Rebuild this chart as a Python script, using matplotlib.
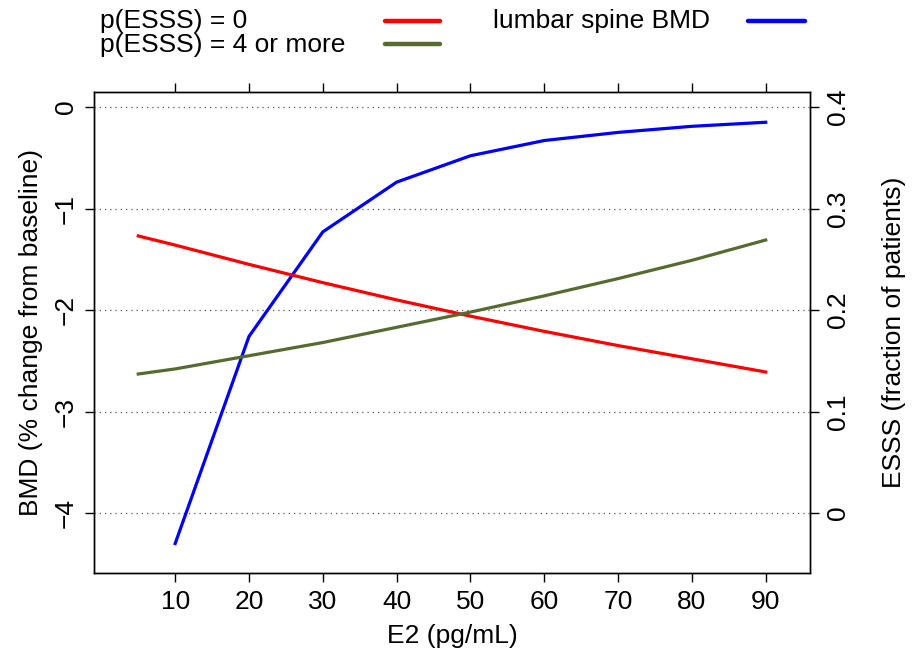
import matplotlib

matplotlib.use("Agg")

import matplotlib.pyplot as plt
from matplotlib.lines import Line2D

# E2 levels (pg/mL)
bmd_e2 = [10, 20, 30, 40, 50, 60, 70, 80, 90]
# lumbar spine BMD, % change from baseline
bmd_change = [-4.30, -2.26, -1.23, -0.74, -0.48, -0.33, -0.25, -0.19, -0.15]

esss_e2 = [5, 10, 20, 30, 40, 50, 60, 70, 80, 90]
# fraction of patients
p_esss_0 = [0.273, 0.264, 0.245, 0.227, 0.210, 0.194, 0.179, 0.165, 0.152, 0.139]
p_esss_4 = [0.137, 0.142, 0.155, 0.168, 0.183, 0.198, 0.214, 0.231, 0.249, 0.269]

x_ticks = [10, 20, 30, 40, 50, 60, 70, 80, 90]
left_ticks = [0, -1, -2, -3, -4]
left_labels = ["0", "\u22121", "\u22122", "\u22123", "\u22124"]
right_ticks = [0.4, 0.3, 0.2, 0.1, 0.0]
right_labels = ["0.4", "0.3", "0.2", "0.1", "0"]

RED = "#ff0000"
GREEN = "#556b2f"
BLUE = "#0000ff"


def main() -> None:
    plt.rcParams.update(
        {
            "font.family": ["Liberation Sans", "DejaVu Sans"],
            "font.size": 19,
            "axes.linewidth": 1.0,
            "xtick.major.size": 6.5,
            "ytick.major.size": 6.5,
            "xtick.major.width": 1.0,
            "ytick.major.width": 1.0,
        }
    )

    fig = plt.figure(figsize=(9.23, 6.52), dpi=100)
    ax = fig.add_axes([0.1018, 0.1212, 0.7758, 0.7377])

    ylim = (-4.59, 0.148)
    ax.set_xlim(-1.0, 96.0)
    ax.set_ylim(*ylim)

    for t in left_ticks:
        ax.axhline(t, color="#555555", linestyle=(0, (1, 3.2)), linewidth=0.9, zorder=1)

    ax.plot(bmd_e2, bmd_change, color=BLUE, linewidth=2.3, zorder=3)

    ax.set_xticks(x_ticks)
    ax.set_yticks(left_ticks)
    ax.set_yticklabels(left_labels, rotation=90, va="center")
    ax.tick_params(axis="x", top=True, labeltop=False, pad=6)
    ax.tick_params(axis="y", pad=5)
    ax.set_xlabel("E2 (pg/mL)", labelpad=7)
    ax.set_ylabel("BMD (% change from baseline)", labelpad=8)

    # right axis shares the same vertical space: 0.4 at BMD 0, 0 at BMD -4
    ax2 = ax.twinx()
    ax2.set_ylim((ylim[0] + 4) / 10, (ylim[1] + 4) / 10)
    ax2.plot(esss_e2, p_esss_0, color=RED, linewidth=2.3, zorder=3)
    ax2.plot(esss_e2, p_esss_4, color=GREEN, linewidth=2.3, zorder=3)
    ax2.set_yticks(right_ticks)
    ax2.set_yticklabels(right_labels, rotation=90, va="center")
    ax2.tick_params(axis="y", pad=5)
    ax2.set_ylabel("ESSS (fraction of patients)", labelpad=23, rotation=90)

    # legend, built by hand (text left, line to the right)
    fig.text(100 / 923, 1 - 21 / 652, "p(ESSS) = 0", ha="left", va="center")
    fig.text(100 / 923, 1 - 45 / 652, "p(ESSS) = 4 or more", ha="left", va="center")
    fig.text(493 / 923, 1 - 21 / 652, "lumbar spine BMD", ha="left", va="center")
    for (x0, x1, y, c) in [(385, 440, 21, RED), (385, 440, 44, GREEN), (748, 805, 21, BLUE)]:
        fig.add_artist(
            Line2D([x0 / 923, x1 / 923], [1 - y / 652, 1 - y / 652],
                   color=c, linewidth=3.2, solid_capstyle="round", transform=fig.transFigure)
        )

    fig.savefig("out.png", dpi=100)
    plt.close(fig)


if __name__ == "__main__":
    main()
